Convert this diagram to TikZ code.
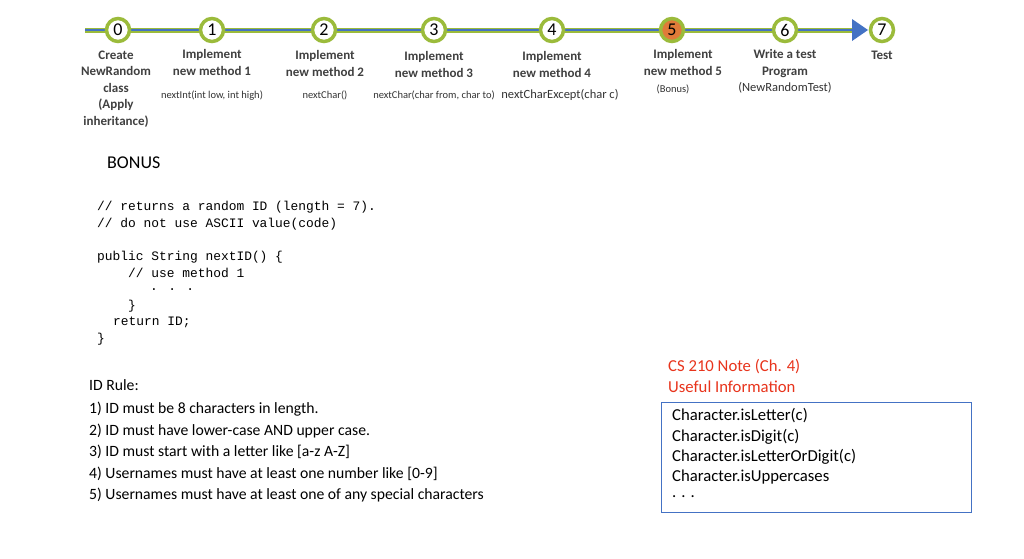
\documentclass[tikz,border=0pt]{standalone}
\usepackage{fontspec}
\setmainfont{Carlito}
\newfontfamily\codefont{Liberation Mono}
\definecolor{gr}{HTML}{9BBB3B}
\definecolor{bl}{HTML}{4472C4}
\definecolor{og}{HTML}{E07B39}
\definecolor{rd}{HTML}{E8341C}
\begin{document}
\begin{tikzpicture}[x=1pt,y=-1pt,
  stp/.style={circle,draw=gr,line width=3.5pt,fill=white,minimum size=23pt,inner sep=0pt,font=\fontsize{18}{18}\selectfont},
  lab/.style={align=center,font=\bfseries\fontsize{13}{16.5}\selectfont,text=black!75,anchor=north},
  sub/.style={align=center,font=\fontsize{10.5}{12}\selectfont,text=black!80,anchor=north},
  code/.style={anchor=west,font=\codefont\fontsize{12.9}{13}\selectfont,inner sep=0pt},
  rule/.style={anchor=west,font=\fontsize{15.7}{16}\selectfont,inner sep=0pt},
  note/.style={anchor=west,font=\fontsize{16.7}{18}\selectfont,inner sep=0pt}]
\useasboundingbox (0,0) rectangle (1024,558);
\fill[white] (0,0) rectangle (1024,558);
\coordinate (ls) at (85,30);
\coordinate (le) at (868,30);
\draw[line width=5pt,color=gr] (ls) -- (855,30);
\draw[line width=2pt,color=bl] (ls) -- (855,30);
\fill[bl] (852,19) -- (868,30) -- (852,41) -- cycle;
\node[stp] (s0) at (118,30) {0};
\node[stp] (s1) at (212,30) {1};
\node[stp] (s2) at (324,30) {2};
\node[stp] (s3) at (434,30) {3};
\node[stp] (s4) at (552,30) {4};
\node[stp,fill=og] (s5) at (672,30) {5};
\node[stp] (s6) at (785,30) {6};
\node[stp] (s7) at (882,30) {7};
\node[lab] (t0) at (116,47) {Create\\NewRandom\\class\\(Apply\\inheritance)};
\node[lab] (t1) at (212,46) {Implement\\new method 1};
\node[sub] (u1) at (212,87) {nextInt(int low, int high)};
\node[lab] (t2) at (325,47) {Implement\\new method 2};
\node[sub] (u2) at (325,87) {nextChar()};
\node[lab] (t3) at (434,48) {Implement\\new method 3};
\node[sub] (u3) at (434,87) {nextChar(char from, char to)};
\node[lab] (t4) at (552,48) {Implement\\new method 4};
\node[sub,font=\fontsize{12.5}{13}\selectfont] (u4) at (560,86) {nextCharExcept(char c)};
\node[lab] (t5) at (683,46) {Implement\\new method 5};
\node[sub] (u5) at (673,81) {(Bonus)};
\node[lab] (t6) at (785,46) {Write a test\\Program};
\node[sub,font=\fontsize{12.5}{13}\selectfont] (u6) at (785,79) {(NewRandomTest)};
\node[lab] (t7) at (882,48) {Test};
\node[anchor=west,font=\fontsize{18}{18}\selectfont,inner sep=0pt] (bonus) at (107,163) {BONUS};
\node[code] (c1) at (97,207) {// returns a random ID  (length = 7).};
\node[code] (c2) at (97,224) {// do not use ASCII value(code)};
\node[code] (c3) at (97,257) {public String nextID() \{};
\node[code] (c4) at (128,273) {// use method 1};
\node[code] (c5) at (150,290) {. . .};
\node[code] (c6) at (128,306) {\}};
\node[code] (c7) at (113,322) {return ID;};
\node[code] (c8) at (97,339) {\}};
\node[rule] (r0) at (89,385) {ID Rule:};
\node[rule] (r1) at (89,409) {1) ID must be 8 characters in length.};
\node[rule] (r2) at (89,431) {2) ID must have lower-case AND upper case.};
\node[rule] (r3) at (89,452) {3) ID must start with a letter like [a-z A-Z]};
\node[rule] (r4) at (89,474) {4) Usernames must have at least one number like [0-9]};
\node[rule] (r5) at (89,495) {5) Usernames must have at least one of any special characters};
\node[note,text=rd] (n1) at (668,367) {CS 210 Note (Ch. 4)};
\node[note,text=rd] (n2) at (668,387) {Useful Information};
\draw[bl,line width=0.8pt] (661,402) rectangle (971,512);
\node[note] (b1) at (672,416) {Character.isLetter(c)};
\node[note] (b2) at (672,437) {Character.isDigit(c)};
\node[note] (b3) at (672,457) {Character.isLetterOrDigit(c)};
\node[note] (b4) at (672,477) {Character.isUppercases};
\node[note] (b5) at (672,497) {. . .};
\end{tikzpicture}
\end{document}
